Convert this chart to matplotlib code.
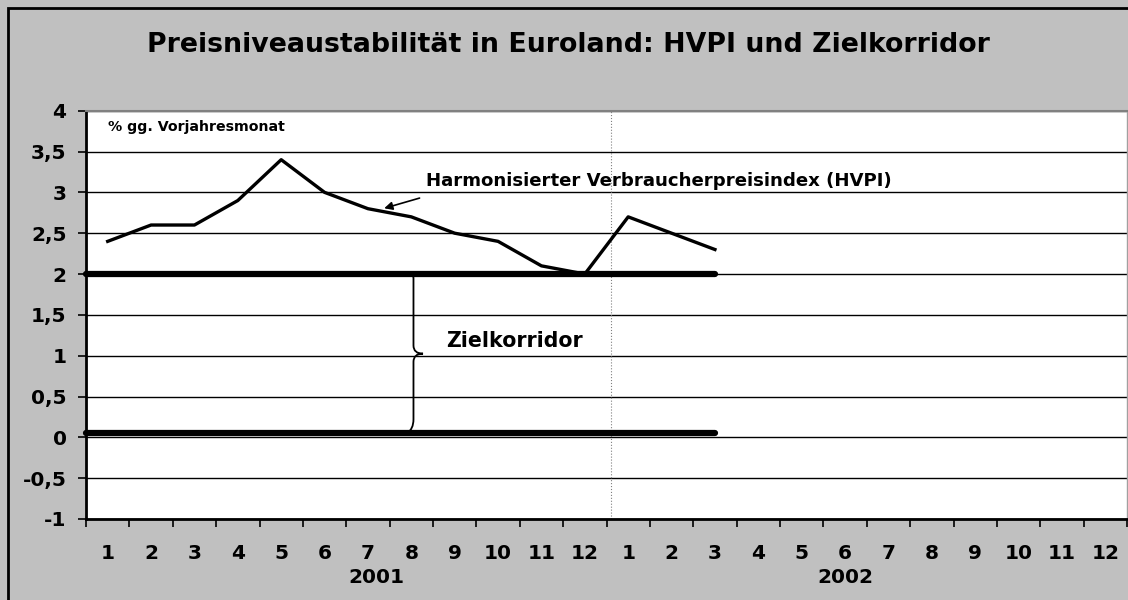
import matplotlib.pyplot as plt
from matplotlib.patches import Rectangle, PathPatch
from matplotlib.path import Path

# data
months = ['1', '2', '3', '4', '5', '6', '7', '8', '9', '10', '11', '12'] * 2
years = ['2001', '2002']
hvpi = [2.4, 2.6, 2.6, 2.9, 3.4, 3.0, 2.8, 2.7, 2.5, 2.4, 2.1, 2.0,
	2.7, 2.5, 2.3]
corridor_upper = [2.0] * 15
corridor_lower = [0.05] * 15
yticks = [-1, -0.5, 0, 0.5, 1, 1.5, 2, 2.5, 3, 3.5, 4]
yticklabels = ['-1', '-0,5', '0', '0,5', '1', '1,5', '2', '2,5', '3', '3,5', '4']

plt.rcParams['font.family'] = ['DejaVu Sans']
plt.rcParams['font.weight'] = 'bold'

fig = plt.figure(figsize=(11.28, 6), dpi=100)
fig.patch.set_facecolor('#c0c0c0')
# chart border: only left and top edges are visible in the reference
fig.add_artist(Rectangle((8/1128, -0.05), 1.1, 1.05 - 8/600, transform=fig.transFigure,
	fill=False, edgecolor='black', linewidth=2))

ax = fig.add_axes([86/1128, (600-519)/600, (1127-86)/1128, (519-110.7)/600])
ax.set_facecolor('white')
n = len(months)
ax.set_xlim(-0.5, n - 0.5)
ax.set_ylim(-1, 4)

for y in yticks:
	ax.axhline(y, color='black', linewidth=1, zorder=1)
ax.axvline(11.61, color='#808080', linewidth=0.8, linestyle=':', zorder=1)

# corridor lines from left edge to last observed month
xs = list(range(len(corridor_upper)))
ax.plot([-0.5] + xs, [corridor_upper[0]] + corridor_upper, color='black', linewidth=4.5,
	solid_capstyle='round', zorder=3, clip_on=False)
ax.plot([-0.5] + xs, [corridor_lower[0]] + corridor_lower, color='black', linewidth=4.5,
	solid_capstyle='round', zorder=3, clip_on=False)
ax.plot(range(len(hvpi)), hvpi, color='black', linewidth=2.4, zorder=4)

# y axis
ax.set_yticks(yticks)
ax.set_yticklabels(yticklabels, fontsize=14.5, fontweight='bold')
ax.tick_params(axis='y', direction='out', length=6, width=1.2, pad=8)

# x axis: ticks at boundaries, labels at centres
ax.set_xticks([i - 0.5 for i in range(n + 1)], minor=True)
ax.set_xticks(range(n))
ax.set_xticklabels(months, fontsize=14.5, fontweight='bold')
ax.tick_params(axis='x', which='major', length=0, pad=18)
ax.tick_params(axis='x', which='minor', direction='out', length=6, width=1.2)
ax.text(6.2, -1.72, years[0], ha='center', va='center', fontsize=14.5, fontweight='bold')
ax.text(17.0, -1.72, years[1], ha='center', va='center', fontsize=14.5, fontweight='bold')

for s in ['left', 'bottom']:
	ax.spines[s].set_linewidth(2)
ax.spines['top'].set_linewidth(1.5)
ax.spines['top'].set_color('#808080')
ax.spines['right'].set_linewidth(1)
ax.spines['right'].set_color('#a0a0a0')

# annotations
ax.text(0.0, 3.8, '% gg. Vorjahresmonat', fontsize=10.2, fontweight='bold', va='center', ha='left')
ax.text(7.35, 3.03, 'Harmonisierter Verbraucherpreisindex (HVPI)',
	fontsize=13.1, fontweight='bold', ha='left', va='bottom')
ax.annotate('', xy=(6.375, 2.805), xytext=(7.19, 2.93),
	arrowprops=dict(arrowstyle='-|>', color='black', lw=1.2, shrinkA=0, shrinkB=0,
		mutation_scale=12))
ax.text(7.81, 1.18, 'Zielkorridor', fontsize=14.8, fontweight='bold', ha='left', va='center')

# curly brace between the corridor lines
bx, tip, top, bot = 7.05, 7.27, 2.0, 0.05
mid = (top + bot) / 2
c = 0.17
verts = [(bx - 0.15, top), (bx, top), (bx, top - 0.05), (bx, top - c),
	(bx, mid + 0.1), (bx, mid + 0.1), (bx, mid + 0.1),
	(bx, mid), (tip, mid), (tip, mid),
	(bx, mid), (bx, mid - 0.1), (bx, mid - 0.1),
	(bx, bot + c), (bx, bot + c), (bx, bot + c),
	(bx, bot + 0.05), (bx - 0.15, bot), (bx - 0.15, bot)]
codes = [Path.MOVETO, Path.CURVE3, Path.CURVE3, Path.LINETO,
	Path.LINETO, Path.LINETO, Path.LINETO,
	Path.CURVE3, Path.CURVE3, Path.LINETO,
	Path.CURVE3, Path.CURVE3, Path.LINETO,
	Path.LINETO, Path.LINETO, Path.LINETO,
	Path.CURVE3, Path.CURVE3, Path.LINETO]
ax.add_patch(PathPatch(Path(verts, codes), fill=False, edgecolor='black', linewidth=1.3, zorder=2))

fig.text(568/1128, 1 - 45/600, 'Preisniveaustabilität in Euroland: HVPI und Zielkorridor',
	ha='center', va='center', fontsize=19.3, fontweight='bold')

plt.savefig('out.png', dpi=100, facecolor=fig.get_facecolor())
